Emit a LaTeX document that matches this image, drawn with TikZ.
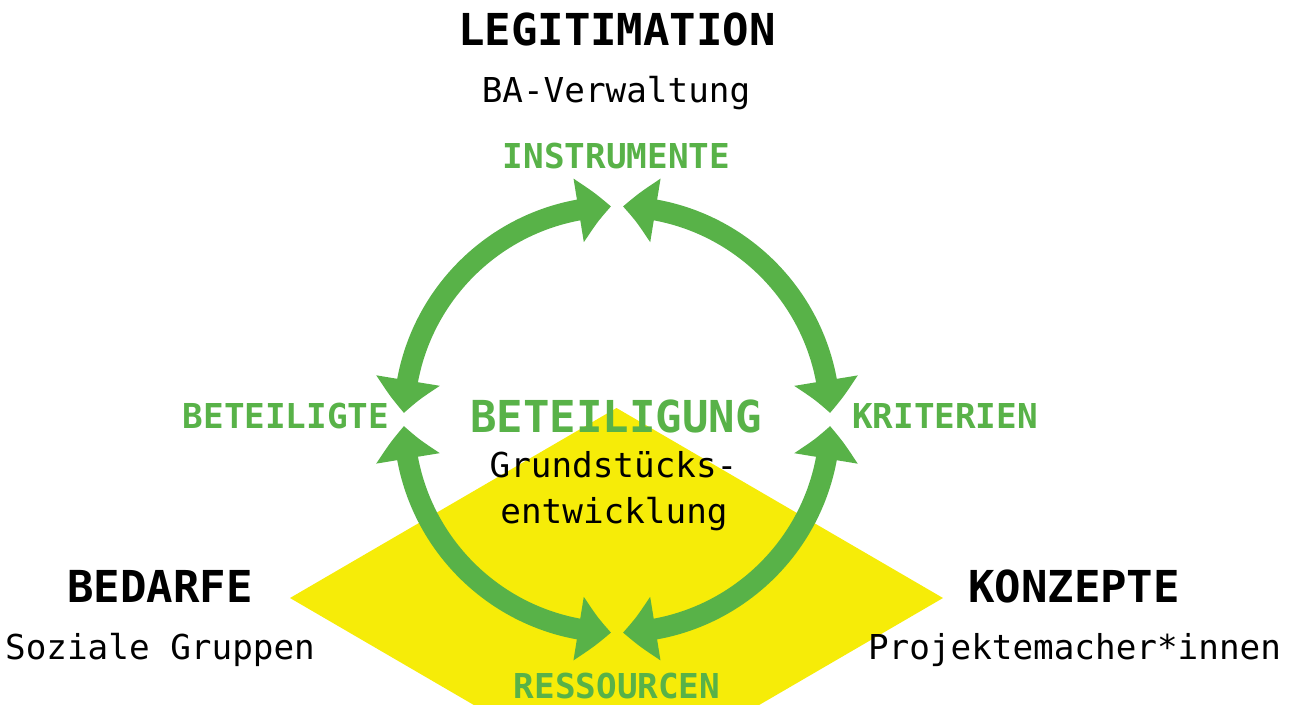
\documentclass[tikz,border=0pt]{standalone}
\usepackage{fontspec}
\newfontfamily\dvm{DejaVu Sans Mono}
\usetikzlibrary{arrows.meta,bending}
\definecolor{lgreen}{RGB}{88,178,72}
\definecolor{lyellow}{RGB}{246,236,8}
\begin{document}
\begin{tikzpicture}[x=1pt,y=-1pt,
  lbl/.style={inner sep=0pt, anchor=base, font=\dvm\fontsize{34.3}{40}\selectfont},
  ttl/.style={inner sep=0pt, anchor=base, font=\dvm\bfseries\fontsize{44}{50}\selectfont},
  glbl/.style={inner sep=0pt, anchor=base, text=lgreen, font=\dvm\bfseries\fontsize{34.3}{40}\selectfont},
  gttl/.style={ttl, text=lgreen},
  cyc/.style={draw=lgreen, line width=21pt, {Triangle[length=33pt,width=62pt,bend]}-{Triangle[length=33pt,width=62pt,bend]}}]
\useasboundingbox (0,0) rectangle (1297,704);
\begin{scope}
\clip (0,0) rectangle (1297,704);
\fill[lyellow] (290,598) -- (616.5,408) -- (943,598) -- (616.5,788) -- cycle;
\end{scope}
\coordinate (c) at (617,419.5);
\draw[cyc] (c) ++(181.75:213) coordinate (a1) arc[start angle=181.75, end angle=268.4, radius=213];
\draw[cyc] (c) ++(271.6:213) coordinate (a2) arc[start angle=271.6, end angle=358.25, radius=213];
\draw[cyc] (c) ++(1.75:213) coordinate (a3) arc[start angle=1.75, end angle=88.4, radius=213];
\draw[cyc] (c) ++(91.6:213) coordinate (a4) arc[start angle=91.6, end angle=178.25, radius=213];
\node[ttl] (leg) at (617,45) {LEGITIMATION};
\node[lbl] (ba) at (616,102) {BA-Verwaltung};
\node[glbl] (ins) at (616.5,168) {INSTRUMENTE};
\node[glbl] (bet) at (286,428) {BETEILIGTE};
\node[glbl] (kri) at (945,428) {KRITERIEN};
\node[gttl] (beg) at (616,432) {BETEILIGUNG};
\node[lbl] (gr1) at (613.5,477) {Grundstücks-};
\node[lbl] (gr2) at (614,523) {entwicklung};
\node[glbl] (res) at (617,698) {RESSOURCEN};
\node[ttl] (bed) at (160,602) {BEDARFE};
\node[lbl] (soz) at (160,659) {Soziale Gruppen};
\node[ttl] (kon) at (1074,602) {KONZEPTE};
\node[lbl] (pro) at (1074.5,659) {Projektemacher*innen};
\end{tikzpicture}
\end{document}
